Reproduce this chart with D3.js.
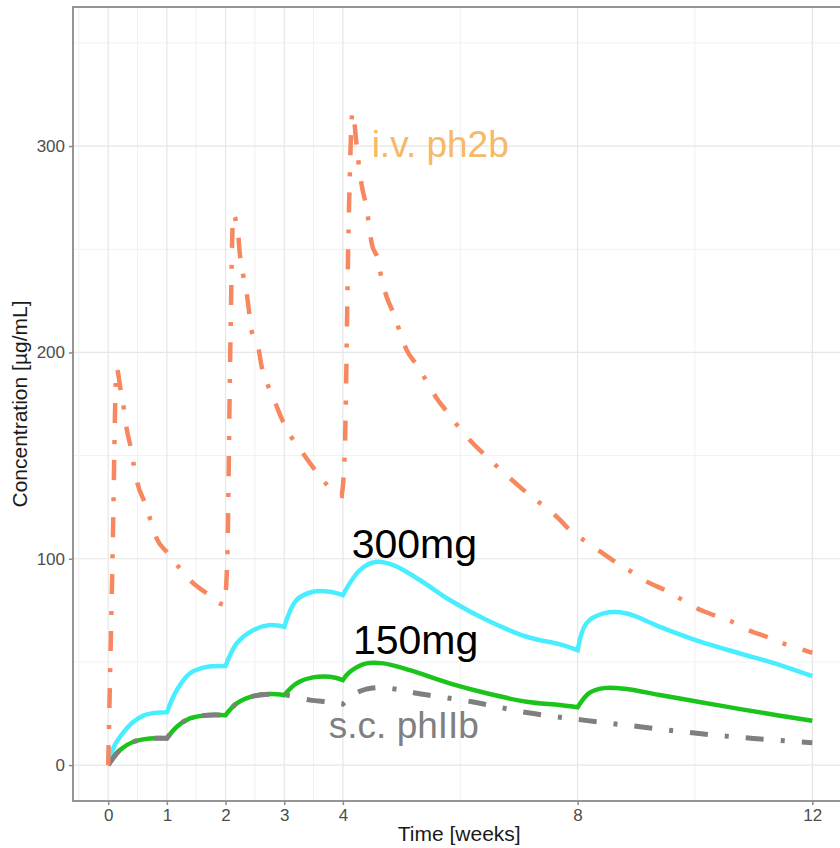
<!DOCTYPE html>
<html>
<head>
<meta charset="utf-8">
<script src="https://cdn.jsdelivr.net/npm/d3@7"></script>
<style>
  html, body { margin: 0; padding: 0; background: #fff; }
  svg { display: block; }
  text { font-family: "Liberation Sans", Arial, sans-serif; }
</style>
</head>
<body>
<svg id="chart" width="840" height="848"></svg>
<script>
// ---- Data (time in weeks, concentration in µg/mL) ----
const xMajorTicks = [0, 1, 2, 3, 4, 8, 12];
const xMinorTicks = [-0.5, 0.5, 1.5, 2.5, 3.5, 6, 10];
const yMajorTicks = [0, 100, 200, 300];
const yMinorTicks = [50, 150, 250, 350];

// i.v. ph2b: one segment per dosing interval
const ivSegments = [
  [[0,0],[0.07,95],[0.143,192.3],[0.216,181],[0.273,171.6],[0.314,163.2],[0.387,153.5],[0.438,145],
   [0.5,136.5],[0.626,126.9],[0.72,118.8],[0.825,109.9],[1.02,102.6],[1.22,95.3],[1.42,88.9],
   [1.68,83.2],[1.93,78],[1.98,77.5]],
  [[1.98,77.5],[2.03,100],[2.08,200],[2.131,266.6],[2.216,256.9],[2.245,247.2],[2.30,237.5],
   [2.36,228.7],[2.40,220],[2.44,210.9],[2.557,202.8],[2.61,193.9],[2.71,185],[2.84,176.1],
   [2.955,168],[3.10,160],[3.30,151.9],[3.47,145.1],[3.66,138.1],[3.89,131.4],[3.98,130.5]],
  [[3.98,130.5],[4.03,150],[4.1,265],[4.165,316.7],[4.235,300],[4.28,288.9],[4.33,279.5],
   [4.40,270.6],[4.445,261.8],[4.49,252.9],[4.60,244.8],[4.66,235.6],[4.745,227],[4.887,217.3],
   [4.97,210],[5.086,201.2],[5.28,193.1],[5.43,185.8],[5.60,177.7],[5.795,170.5],[5.99,163.2],
   [6.19,156.7],[6.42,150.3],[7.05,134],[7.70,118.8],[7.84,114.7],[8.10,109.1],[8.35,104.2],
   [8.64,98.5],[8.92,93.7],[9.18,88.9],[9.49,84.8],[9.74,80.8],[10.03,76],[10.32,72.7],
   [10.63,69.5],[10.91,65.4],[11.22,62.2],[11.5,59],[11.82,56.1],[12,54.4]]
];

// 300mg
const mg300Segments = [
  [[0,0],[0.1,9],[0.25,15.5],[0.43,21],[0.6,24],[0.8,25.3],[1.0,25.6]],
  [[1.0,25.6],[1.17,36.4],[1.39,44.4],[1.68,47.6],[2.0,48]],
  [[2.0,48],[2.19,59],[2.47,65.4],[2.76,67.9],[3.0,67]],
  [[3.0,67],[3.21,80],[3.49,84],[3.78,84],[4.0,82.4]],
  [[4.0,82.4],[4.29,94.5],[4.57,98.5],[4.86,96.9],[5.31,89.7],[5.82,80],[6.45,70.3],
   [7.13,62.2],[7.70,58.5],[8.0,55.7]],
  [[8.0,55.7],[8.15,68.7],[8.44,73.5],[8.84,73.5],[9.4,67],[10.09,59.8],[10.77,54.1],
   [11.45,48.5],[12,43.1]]
];

// 150mg
const mg150Segments = [
  [[0,0],[0.2,7.3],[0.43,11.3],[0.71,12.9],[1.0,13]],
  [[1.0,13],[1.17,18.6],[1.39,22.6],[1.68,24.2],[2.0,24.2]],
  [[2.0,24.2],[2.19,29.9],[2.47,33.4],[2.76,34.4],[3.0,33.9]],
  [[3.0,33.9],[3.21,39.6],[3.49,42.5],[3.78,42.8],[4.0,41.2]],
  [[4.0,41.2],[4.12,45.2],[4.4,49.3],[4.69,49.3],[5.14,46],[5.82,39.6],[6.45,34.8],
   [7.13,30.7],[7.70,29.1],[8.0,28]],
  [[8.0,28],[8.2,35],[8.45,37.3],[8.8,37],[9.4,34],[10.1,30.5],[10.8,27],[11.4,24.2],[12,21.5]]
];

// s.c. phIIb
const scSegments = [
  [[0,0],[0.2,7.3],[0.43,11.3],[0.71,12.9],[1.0,13]],
  [[1.0,13],[1.17,18.6],[1.39,22.6],[1.68,24.2],[2.0,24.2]],
  [[2.0,24.2],[2.19,29.9],[2.47,33.4],[2.76,34.4],[3.04,33.9],[3.44,31.5],[3.75,30.6],[4.0,29.6]],
  [[4.0,29.6],[4.2,34.5],[4.4,36.8],[4.65,37.6],[5.0,36.3],[5.26,34.8],[6.2,30.7],[7.13,25.5],
   [8.1,21.8],[9.06,18.6],[10.03,15.4],[11.0,12.9],[12,10.8]]
];

// Text labels anchored at data coordinates [week, conc]
const seriesLabels = [
  { text: "i.v. ph2b", t: 4.49, c: 294.5, color: "#F5B969", size: 37 },
  { text: "300mg",     t: 4.15, c: 100.3, color: "#000000", size: 41 },
  { text: "150mg",     t: 4.17, c: 53.8,  color: "#000000", size: 41 },
  { text: "s.c. phIIb", t: 3.76, c: 13.1, color: "#808080", size: 37 }
];

// ---- Chart ----
const svg = d3.select("#chart");
const x = d3.scaleLinear().domain([-0.6, 12.6]).range([73, 847.5]);
const y = d3.scaleLinear().domain([-17.4, 367.4]).range([801, 7]);
const [x0, x1] = x.range();
const [yb, yt] = y.range();

// grid
const grid = svg.append("g");
grid.selectAll(".vminor").data(xMinorTicks).join("line")
  .attr("x1", d => x(d)).attr("x2", d => x(d)).attr("y1", yt).attr("y2", yb)
  .attr("stroke", "#f1f1f1").attr("stroke-width", 1);
grid.selectAll(".hminor").data(yMinorTicks).join("line")
  .attr("x1", x0).attr("x2", x1).attr("y1", d => y(d)).attr("y2", d => y(d))
  .attr("stroke", "#f1f1f1").attr("stroke-width", 1);
grid.selectAll(".vmajor").data(xMajorTicks).join("line")
  .attr("x1", d => x(d)).attr("x2", d => x(d)).attr("y1", yt).attr("y2", yb)
  .attr("stroke", "#e6e6e6").attr("stroke-width", 1.2);
grid.selectAll(".hmajor").data(yMajorTicks).join("line")
  .attr("x1", x0).attr("x2", x1).attr("y1", d => y(d)).attr("y2", d => y(d))
  .attr("stroke", "#e6e6e6").attr("stroke-width", 1.2);

// lines
const ivLine = d3.line().x(d => x(d[0])).y(d => y(d[1])).curve(d3.curveMonotoneX);
const smoothLine = d3.line().x(d => x(d[0])).y(d => y(d[1])).curve(d3.curveCatmullRom.alpha(0.5));
function segPath(segs, gen) {
  return segs.map((s, i) => { const p = gen(s); return i ? p.replace(/^M/, "L") : p; }).join("");
}
const plot = svg.append("g");
plot.append("path").attr("d", segPath(mg300Segments, smoothLine))
  .attr("fill", "none").attr("stroke", "#48EEFF").attr("stroke-width", 4.5);
plot.append("path").attr("d", segPath(mg150Segments, smoothLine))
  .attr("fill", "none").attr("stroke", "#1BC41B").attr("stroke-width", 4.5);
plot.append("path").attr("d", segPath(scSegments, smoothLine))
  .attr("fill", "none").attr("stroke", "#7F7F7F").attr("stroke-width", 5)
  .attr("stroke-dasharray", "18,17,4,17");
plot.append("path").attr("d", segPath(ivSegments, ivLine))
  .attr("fill", "none").attr("stroke", "#F7875F").attr("stroke-width", 4.5)
  .attr("stroke-dasharray", "20,16,4,17");

// panel border
svg.append("rect").attr("x", x0).attr("y", yt).attr("width", x1 - x0).attr("height", yb - yt)
  .attr("fill", "none").attr("stroke", "#8a8a8a").attr("stroke-width", 1.8);

// axes
const yAxis = svg.append("g").attr("transform", `translate(${x0},0)`)
  .call(d3.axisLeft(y).tickValues(yMajorTicks).tickSize(4).tickPadding(4));
const xAxis = svg.append("g").attr("transform", `translate(0,${yb})`)
  .call(d3.axisBottom(x).tickValues(xMajorTicks).tickSize(4).tickPadding(4));
[yAxis, xAxis].forEach(a => {
  a.select(".domain").remove();
  a.selectAll("line").attr("stroke", "#8a8a8a").attr("stroke-width", 1.5);
  a.selectAll("text").attr("fill", "#4d4d4d").style("font-size", "17px")
    .style("font-family", "'Liberation Sans', Arial, sans-serif");
});

// axis titles
svg.append("text").attr("x", (x0 + x1) / 2 - 1).attr("y", 841)
  .attr("text-anchor", "middle").style("font-size", "21px").attr("fill", "#1a1a1a")
  .text("Time [weeks]");
svg.append("text")
  .attr("transform", `translate(27,${(yt + yb) / 2}) rotate(-90)`)
  .attr("text-anchor", "middle").style("font-size", "21px").attr("fill", "#1a1a1a")
  .text("Concentration [µg/mL]");

// series labels
svg.append("g").selectAll("text").data(seriesLabels).join("text")
  .attr("x", d => x(d.t)).attr("y", d => y(d.c))
  .attr("fill", d => d.color).style("font-size", d => d.size + "px")
  .text(d => d.text);
</script>
</body>
</html>
